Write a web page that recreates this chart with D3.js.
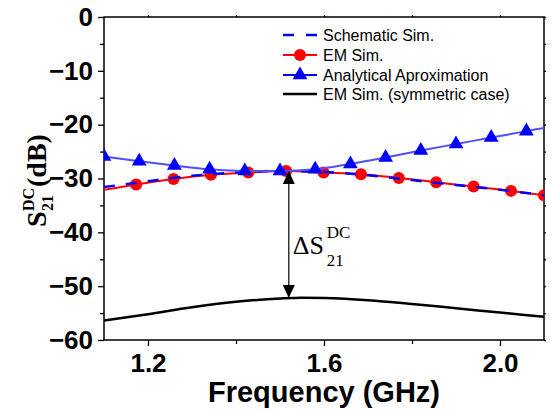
<html>
<script src='https://cdn.jsdelivr.net/npm/d3@7'></script>
<body onload='init()' style="margin:0; background-color:white;">

<svg id="chart" width="558" height="412"></svg>

<script>

// Data

// EM Sim. (red, circles)
const emFreq = [1.10, 1.173, 1.258, 1.343, 1.428, 1.514, 1.599, 1.684, 1.770, 1.855, 1.940, 2.025, 2.10];
const emS21 = [-32.1, -31.1, -30.1, -29.3, -28.9, -28.6, -28.9, -29.2, -29.9, -30.7, -31.5, -32.3, -33.1];

// Schematic Sim. (blue dashed)
const schFreq = [1.10, 1.20, 1.30, 1.40, 1.50, 1.60, 1.70, 1.80, 1.90, 2.00, 2.10];
const schS21 = [-31.6, -30.5, -29.5, -28.9, -28.6, -28.8, -29.4, -30.3, -31.2, -32.1, -33.1];

// Analytical Aproximation (blue, triangles)
const anaFreq = [1.10, 1.18, 1.26, 1.34, 1.42, 1.50, 1.58, 1.66, 1.74, 1.82, 1.90, 1.98, 2.06, 2.10];
const anaS21 = [-25.9, -26.8, -27.6, -28.3, -28.6, -28.6, -28.3, -27.3, -26.1, -24.8, -23.6, -22.4, -21.2, -20.6];

// EM Sim. (symmetric case) (black)
const symFreq = [1.10, 1.20, 1.30, 1.40, 1.50, 1.55, 1.60, 1.70, 1.80, 1.90, 2.00, 2.10];
const symS21 = [-56.4, -55.2, -53.9, -52.9, -52.3, -52.15, -52.2, -52.6, -53.3, -54.1, -54.9, -55.7];

// Delta arrow
const arrowFreq = 1.52;
const arrowTop = -28.6;
const arrowBottom = -52.2;

const xTicks = [1.2, 1.6, 2.0];
const xMinorTicks = [1.4, 1.8];
const yTicks = [0, -10, -20, -30, -40, -50, -60];
const yMinorTicks = [-5, -15, -25, -35, -45, -55];

const legendLabels = ["Schematic Sim.", "EM Sim.", "Analytical Aproximation", "EM Sim. (symmetric case)"];

function init() {

    const svg = d3.select('#chart');

    const left = 104, right = 544, top = 17, bottom = 340;

    const xScale = d3.scaleLinear().domain([1.1, 2.1]).range([left, right]);
    const yScale = d3.scaleLinear().domain([-60, 0]).range([bottom, top]);

    svg.append("clipPath").attr("id", "plotclip")
        .append("rect")
        .attr("x", left).attr("y", top)
        .attr("width", right - left).attr("height", bottom - top);

//////////////////////////////////////////////
// Axes
//////////////////////////////////////////////

    const xAxis = svg.append("g")
        .attr("transform", `translate(0, ${bottom})`)
        .call(d3.axisBottom(xScale).tickValues(xTicks).tickSize(6).tickSizeOuter(0).tickFormat(d3.format(".1f")));

    svg.append("g")
        .attr("transform", `translate(0, ${bottom})`)
        .call(d3.axisBottom(xScale).tickValues(xMinorTicks).tickSize(4).tickSizeOuter(0).tickFormat(""));

    const yAxis = svg.append("g")
        .attr("transform", `translate(${left}, 0)`)
        .call(d3.axisLeft(yScale).tickValues(yTicks).tickSize(6).tickSizeOuter(0).tickFormat(d3.format("d")));

    svg.append("g")
        .attr("transform", `translate(${left}, 0)`)
        .call(d3.axisLeft(yScale).tickValues(yMinorTicks).tickSize(4).tickSizeOuter(0).tickFormat(""));

    // mirrored ticks, very small
    svg.append("g")
        .attr("transform", `translate(0, ${top})`)
        .call(d3.axisTop(xScale).tickValues(xTicks.concat(xMinorTicks)).tickSize(2).tickSizeOuter(0).tickFormat(""));

    svg.append("g")
        .attr("transform", `translate(${right}, 0)`)
        .call(d3.axisRight(yScale).tickValues(yTicks.concat(yMinorTicks)).tickSize(2).tickSizeOuter(0).tickFormat(""));

    svg.selectAll(".domain").remove();
    svg.selectAll(".tick line").attr("stroke", "black").attr("stroke-width", 1.3);

    xAxis.selectAll("text")
        .attr("font-family", "Liberation Sans, Arial, sans-serif")
        .attr("font-weight", "bold")
        .attr("font-size", 26)
        .attr("y", 14)
        .attr("fill", "black");

    yAxis.selectAll("text")
        .attr("font-family", "Liberation Sans, Arial, sans-serif")
        .attr("font-weight", "bold")
        .attr("font-size", 26)
        .attr("x", -11)
        .attr("fill", "black");

    // frame
    svg.append("rect")
        .attr("x", left).attr("y", top)
        .attr("width", right - left).attr("height", bottom - top)
        .attr("fill", "none")
        .attr("stroke", "black")
        .attr("stroke-width", 1.5);

    // axis titles
    svg.append("text")
        .attr("x", 324)
        .attr("y", 402)
        .attr("text-anchor", "middle")
        .attr("font-family", "Liberation Sans, Arial, sans-serif")
        .attr("font-weight", "bold")
        .attr("font-size", 29)
        .text("Frequency (GHz)");

    const ytitle = svg.append("g")
        .attr("transform", "translate(46, 227) rotate(-90)")
        .attr("font-family", "Liberation Serif, Times New Roman, serif")
        .attr("font-weight", "bold");

    ytitle.append("text").attr("x", 0).attr("y", 0).attr("font-size", 28).text("S");
    ytitle.append("text").attr("x", 16).attr("y", -12).attr("font-size", 16).text("DC");
    ytitle.append("text").attr("x", 16).attr("y", 7).attr("font-size", 16).text("21");
    ytitle.append("text").attr("x", 40).attr("y", 0).attr("font-size", 28).text("(dB)");

//////////////////////////////////////////////
// Series
//////////////////////////////////////////////

    const plot = svg.append("g").attr("clip-path", "url(#plotclip)");

    const line = d3.line()
        .x(d => xScale(d[0]))
        .y(d => yScale(d[1]))
        .curve(d3.curveMonotoneX);

    const emData = emFreq.map((f, i) => [f, emS21[i]]);
    const schData = schFreq.map((f, i) => [f, schS21[i]]);
    const anaData = anaFreq.map((f, i) => [f, anaS21[i]]);
    const symData = symFreq.map((f, i) => [f, symS21[i]]);

    plot.append("path")
        .datum(symData)
        .attr("d", line)
        .attr("fill", "none")
        .attr("stroke", "black")
        .attr("stroke-width", 2.5);

    plot.append("path")
        .datum(emData)
        .attr("d", line)
        .attr("fill", "none")
        .attr("stroke", "#ff0000")
        .attr("stroke-width", 2);

    plot.selectAll(".emdot")
        .data(emData.slice(1))
        .enter()
        .append("circle")
        .attr("class", "emdot")
        .attr("cx", d => xScale(d[0]))
        .attr("cy", d => yScale(d[1]))
        .attr("r", 6)
        .attr("fill", "#ff0000");

    plot.append("path")
        .datum(schData)
        .attr("d", line)
        .attr("fill", "none")
        .attr("stroke", "#0000ff")
        .attr("stroke-width", 2.5)
        .attr("stroke-dasharray", "11,11");

    plot.append("path")
        .datum(anaData)
        .attr("d", line)
        .attr("fill", "none")
        .attr("stroke", "#5050ff")
        .attr("stroke-width", 2);

    const tri = d3.symbol().type(d3.symbolTriangle).size(95);

    plot.selectAll(".anatri")
        .data(anaData.slice(0, -1))
        .enter()
        .append("path")
        .attr("class", "anatri")
        .attr("d", tri)
        .attr("transform", d => `translate(${xScale(d[0])}, ${yScale(d[1])})`)
        .attr("fill", "#0000ff");

//////////////////////////////////////////////
// Delta annotation
//////////////////////////////////////////////

    const ax = xScale(arrowFreq);
    const ay1 = yScale(arrowTop);
    const ay2 = yScale(arrowBottom);

    svg.append("line")
        .attr("x1", ax).attr("x2", ax)
        .attr("y1", ay1 + 10).attr("y2", ay2 - 10)
        .attr("stroke", "black")
        .attr("stroke-width", 1.2);

    svg.append("path")
        .attr("d", `M${ax},${ay1} L${ax - 6},${ay1 + 13} L${ax + 6},${ay1 + 13} Z`)
        .attr("fill", "black");

    svg.append("path")
        .attr("d", `M${ax},${ay2} L${ax - 6},${ay2 - 13} L${ax + 6},${ay2 - 13} Z`)
        .attr("fill", "black");

    const dlabel = svg.append("g")
        .attr("font-family", "Liberation Serif, Times New Roman, serif")
        .attr("fill", "black");

    dlabel.append("text").attr("x", ax + 4).attr("y", 254).attr("font-size", 26).text("ΔS");
    dlabel.append("text").attr("x", ax + 38).attr("y", 238).attr("font-size", 17).text("DC");
    dlabel.append("text").attr("x", ax + 38).attr("y", 266).attr("font-size", 17).text("21");

//////////////////////////////////////////////
// Legend
//////////////////////////////////////////////

    const legX1 = 283, legX2 = 317, legTextX = 323;
    const legY = [35, 55, 75, 94];

    const legend = svg.append("g");

    legend.append("line")
        .attr("x1", legX1).attr("x2", legX2)
        .attr("y1", legY[0]).attr("y2", legY[0])
        .attr("stroke", "#0000ff").attr("stroke-width", 2.5)
        .attr("stroke-dasharray", "11,12");

    legend.append("line")
        .attr("x1", legX1).attr("x2", legX2)
        .attr("y1", legY[1]).attr("y2", legY[1])
        .attr("stroke", "#ff0000").attr("stroke-width", 2);
    legend.append("circle")
        .attr("cx", (legX1 + legX2) / 2).attr("cy", legY[1])
        .attr("r", 6).attr("fill", "#ff0000");

    legend.append("line")
        .attr("x1", legX1).attr("x2", legX2)
        .attr("y1", legY[2]).attr("y2", legY[2])
        .attr("stroke", "#0000ff").attr("stroke-width", 2);
    legend.append("path")
        .attr("d", tri)
        .attr("transform", `translate(${(legX1 + legX2) / 2}, ${legY[2]})`)
        .attr("fill", "#0000ff");

    legend.append("line")
        .attr("x1", legX1).attr("x2", legX2)
        .attr("y1", legY[3]).attr("y2", legY[3])
        .attr("stroke", "black").attr("stroke-width", 2.5);

    legend.selectAll(".legtext")
        .data(legendLabels)
        .enter()
        .append("text")
        .attr("class", "legtext")
        .attr("x", legTextX)
        .attr("y", (d, i) => legY[i])
        .attr("dy", "0.35em")
        .attr("font-family", "Liberation Sans, Arial, sans-serif")
        .attr("font-size", 16)
        .text(d => d);

}

</script>
</body>
</html>
